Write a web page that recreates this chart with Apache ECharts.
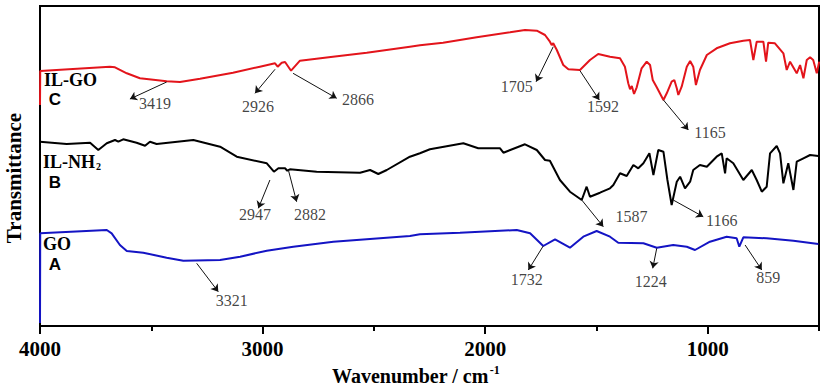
<!DOCTYPE html>
<html>
<head>
<meta charset="utf-8">
<script src="https://cdn.jsdelivr.net/npm/echarts@6/dist/echarts.min.js"></script>
<style>
  html, body { margin: 0; padding: 0; background: #fff; }
  #chart { width: 829px; height: 391px; }
</style>
</head>
<body>
<div id="chart"></div>
<script>
// FTIR spectra, [wavenumber (cm-1), transmittance (a.u., offset per curve)]
const ilgoSpectrum = [
  [4000, 221], [3999, 255], [3686, 259.3], [3663, 258.7], [3610, 252.7], [3551, 247.7], [3431, 244.7],
  [3371, 244], [3281, 247.3], [3133, 253.3], [3012, 259.3], [2944, 262.7], [2932, 259.3], [2914, 263.3],
  [2899, 264], [2872, 255.3], [2832, 265.3], [2684, 269.3], [2532, 273.3], [2338, 279.3], [2293, 280.7],
  [2189, 283.3], [2038, 288.7], [1888, 293.7], [1821, 296], [1768, 295.3], [1731, 291], [1709, 284.3],
  [1701, 281], [1694, 282.7], [1678, 276], [1649, 261], [1626, 256.7], [1574, 256], [1529, 266],
  [1492, 272], [1439, 269.3], [1394, 267.7], [1372, 259.3], [1357, 242.7], [1349, 236.7], [1341, 240],
  [1331, 232], [1319, 238.7], [1297, 257.7], [1274, 264.3], [1259, 261], [1247, 246], [1229, 238.7],
  [1199, 226], [1184, 232.7], [1162, 244.3], [1150, 246], [1139, 237.7], [1132, 231], [1117, 239.3],
  [1094, 259.3], [1079, 265], [1065, 259.3], [1053, 241], [1035, 256], [1004, 271], [960, 277.7],
  [900, 282.7], [840, 285.3], [810, 286], [795, 266], [780, 284.3], [750, 284.3], [738, 264.3],
  [728, 283.3], [698, 282.7], [660, 272.7], [645, 256], [630, 264.3], [600, 252.7], [585, 261],
  [570, 247.7], [555, 266], [540, 268.7], [526, 266], [510, 252.7], [499, 264.3]
];

const ilnh2Spectrum = [
  [4000, 184.3], [3880, 182], [3775, 183.3], [3738, 176], [3700, 182.7], [3663, 186], [3648, 184.3],
  [3626, 186.7], [3566, 183.3], [3528, 180.3], [3506, 184.3], [3476, 182], [3311, 186], [3191, 179.3],
  [3116, 169.3], [2981, 162.7], [2949, 154.3], [2929, 157.7], [2899, 157.7], [2889, 155.3], [2877, 156.7],
  [2757, 154.3], [2562, 153.3], [2517, 156], [2480, 152], [2442, 156], [2338, 169.3], [2293, 172.7],
  [2248, 176.7], [2098, 182.7], [2031, 177.7], [1933, 177.7], [1918, 173.3], [1821, 181.7], [1768, 176],
  [1731, 166], [1709, 165.3], [1664, 146], [1619, 134.3], [1566, 126], [1544, 139.3], [1529, 129.3],
  [1484, 133.3], [1439, 137.7], [1424, 141], [1394, 152.7], [1364, 150], [1334, 161], [1312, 157.7],
  [1289, 162.7], [1262, 172.7], [1244, 151], [1222, 176], [1199, 174.3], [1181, 146], [1162, 121],
  [1139, 144.3], [1124, 149.3], [1102, 137.7], [1079, 144.3], [1065, 156], [1035, 161], [1004, 159.3],
  [960, 169.3], [937, 172.7], [922, 152.7], [915, 167.7], [885, 162.7], [840, 146], [802, 156],
  [780, 146], [757, 134.3], [735, 139.3], [720, 172.7], [690, 180], [675, 172.7], [660, 142.7],
  [638, 162.7], [615, 136], [600, 164.3], [570, 167.7], [540, 171], [503, 170]
];

const goSpectrum = [
  [4000, 3], [3999, 92.7], [3700, 96], [3678, 92.7], [3641, 81], [3610, 75], [3536, 73.3], [3431, 68.3],
  [3356, 65.3], [3191, 66], [3101, 69.3], [2981, 75.3], [2862, 79.3], [2682, 84.3], [2338, 90],
  [2293, 91.7], [2113, 93.3], [1858, 96], [1798, 92.7], [1739, 80], [1686, 86.7], [1619, 78.3],
  [1559, 89.3], [1499, 95], [1439, 89.3], [1402, 83.3], [1289, 82.7], [1229, 78.3], [1155, 81],
  [1094, 79.3], [1057, 76], [990, 84.3], [915, 89.3], [870, 87.7], [858, 79.3], [840, 88.7],
  [735, 87.7], [615, 85.3], [503, 82]
];

// peak annotations: label, arrow tail, arrow head, text centre (data coords)
const peakNames = ['3419', '2926', '2866', '1705', '1592', '1165', '2947', '2882', '1587', '1166', '3321', '1732', '1224', '859'];
const peakFrom = [[3431, 244], [2944, 256.7], [2863, 252.7], [1694, 279.3], [1574, 255.3], [1199, 226],
  [2967, 146], [2884, 156], [1566, 126], [1155, 126], [3296, 62.7], [1739, 80], [1229, 77.7], [832, 81]];
const peakTo = [[3596, 227], [3034, 232.7], [2667, 227.7], [1771, 244.3], [1487, 226], [1087, 196],
  [3019, 117.7], [2847, 124.3], [1469, 99.3], [1020, 109.3], [3199, 34.3], [1806, 56], [1247, 57.7], [757, 56]];
const peakTextAt = [[3483, 223], [3021, 220], [2571, 226.7], [1858, 240], [1470, 219.3], [990, 193.7],
  [3034, 111.7], [2787, 111.7], [1342, 109.3], [937, 106], [3139, 25.3], [1813, 46.7], [1256, 44.3], [728, 48.7]];

const serif = '"Liberation Serif", "Times New Roman", serif';
const sans = '"Liberation Sans", Arial, sans-serif';

const chart = echarts.init(document.getElementById('chart'), null, { renderer: 'svg' });

const option = {
  backgroundColor: '#fff',
  animation: false,
  grid: { left: 40, right: 10, top: 6, bottom: 65, show: true, borderColor: '#000', borderWidth: 2 },
  xAxis: [{
    type: 'value',
    min: 500,
    max: 4000,
    interval: 500,
    inverse: true,
    axisLine: { show: true, lineStyle: { color: '#000', width: 2 } },
    axisTick: { show: true, length: 5, lineStyle: { color: '#000', width: 2 } },
    axisLabel: {
      margin: 12,
      fontFamily: serif, fontWeight: 'bold', fontSize: 21, color: '#000',
      formatter: (v) => (v % 1000 === 0 ? String(v) : ''),
    },
    splitLine: { show: false },
  }, {
    type: 'value',
    min: 500,
    max: 4000,
    interval: 500,
    inverse: true,
    position: 'bottom',
    axisLine: { show: false },
    axisTick: { show: true, length: 8, customValues: [1000, 2000, 3000, 4000], lineStyle: { color: '#000', width: 2 } },
    axisLabel: { show: false },
    splitLine: { show: false },
  }],
  yAxis: {
    type: 'value',
    min: 0,
    max: 320,
    axisLine: { show: false },
    axisTick: { show: false },
    axisLabel: { show: false },
    splitLine: { show: false },
  },
  graphic: [
    { type: 'text', x: 14, y: 178, rotation: Math.PI / 2,
      style: { text: 'Transmittance', font: 'bold 21px ' + serif, fill: '#000', align: 'center', verticalAlign: 'middle' } },
    { type: 'text', x: 332, y: 376,
      style: {
        text: 'Wavenumber / cm{sup|-1}', font: 'bold 20px ' + serif, fill: '#000', verticalAlign: 'middle',
        rich: { sup: { font: 'bold 12px ' + serif, fill: '#000', padding: [0, 0, 12, 1] } },
      } },
    { type: 'text', x: 44, y: 80, style: { text: 'IL-GO', font: 'bold 18px ' + serif, fill: '#000', verticalAlign: 'middle' } },
    { type: 'text', x: 55, y: 99, style: { text: 'C', font: 'bold 17px ' + sans, fill: '#000', align: 'center', verticalAlign: 'middle' } },
    { type: 'text', x: 43, y: 162,
      style: {
        text: 'IL-NH{sub|2}', font: 'bold 18px ' + serif, fill: '#000', verticalAlign: 'middle',
        rich: { sub: { font: 'bold 10px ' + serif, fill: '#000', padding: [8, 0, 0, 1] } },
      } },
    { type: 'text', x: 55, y: 182, style: { text: 'B', font: 'bold 17px ' + sans, fill: '#000', align: 'center', verticalAlign: 'middle' } },
    { type: 'text', x: 43, y: 244, style: { text: 'GO', font: 'bold 18px ' + serif, fill: '#000', verticalAlign: 'middle' } },
    { type: 'text', x: 55, y: 264, style: { text: 'A', font: 'bold 17px ' + sans, fill: '#000', align: 'center', verticalAlign: 'middle' } },
  ],
  series: [
    {
      name: 'IL-GO', type: 'line', data: ilgoSpectrum, showSymbol: false,
      lineStyle: { color: '#e3141b', width: 2 }, z: 3,
    },
    {
      name: 'IL-NH2', type: 'line', data: ilnh2Spectrum, showSymbol: false,
      lineStyle: { color: '#000', width: 2 }, z: 3,
    },
    {
      name: 'GO', type: 'line', data: goSpectrum, showSymbol: false,
      lineStyle: { color: '#1414c4', width: 2 }, z: 3,
    },
    {
      type: 'lines', coordinateSystem: 'cartesian2d', silent: true, z: 4,
      symbol: ['none', 'arrow'], symbolSize: 7,
      lineStyle: { color: '#111', width: 1, opacity: 1, curveness: 0 },
      data: peakFrom.map((p, i) => ({ coords: [p, peakTo[i]] })),
    },
    {
      type: 'scatter', silent: true, z: 5, symbolSize: 1,
      itemStyle: { color: 'transparent' },
      label: { show: true, position: 'inside', formatter: '{b}', fontFamily: serif, fontSize: 16, color: '#111' },
      data: peakNames.map((n, i) => ({ name: n, value: peakTextAt[i] })),
    },
  ],
};

chart.setOption(option);
</script>
</body>
</html>
